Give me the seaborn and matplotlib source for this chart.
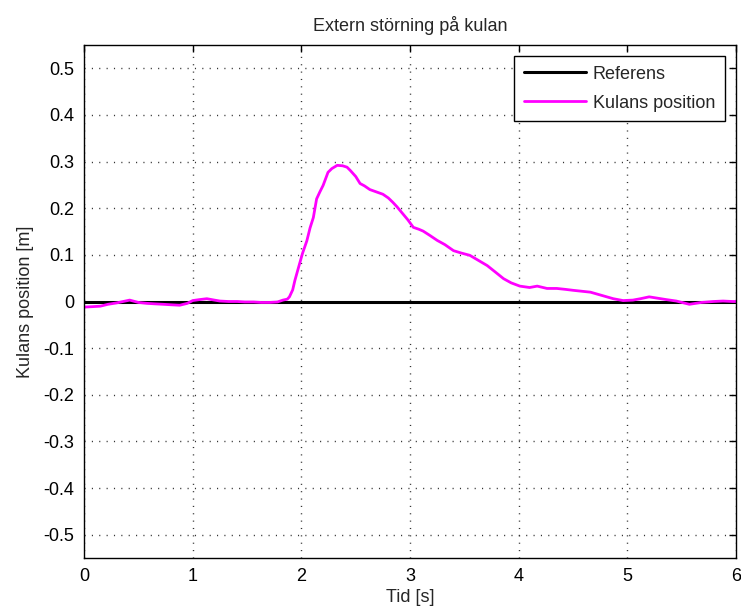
import numpy as np
import pandas as pd
import matplotlib
matplotlib.use("Agg")
import matplotlib.pyplot as plt
import seaborn as sns

# Time [s] and ball position [m]
t = [0.00, 0.08, 0.15, 0.22, 0.30, 0.36, 0.42, 0.50, 0.58, 0.65, 0.73, 0.80, 0.88, 0.95,
     1.00, 1.06, 1.13, 1.20, 1.25, 1.33, 1.41, 1.48, 1.56, 1.63, 1.71, 1.78, 1.83, 1.87,
     1.89, 1.92, 1.94, 1.97, 2.01, 2.05, 2.08, 2.11, 2.14, 2.17, 2.20, 2.245, 2.28, 2.33,
     2.38, 2.42, 2.45, 2.50, 2.54, 2.58, 2.63, 2.69, 2.75, 2.80, 2.84, 2.88, 2.93, 2.98,
     3.03, 3.08, 3.12, 3.18, 3.25, 3.32, 3.40, 3.47, 3.55, 3.63, 3.71, 3.78, 3.86, 3.93,
     4.01, 4.10, 4.17, 4.26, 4.35, 4.43, 4.50, 4.58, 4.66, 4.75, 4.87, 4.96, 5.05, 5.12,
     5.20, 5.28, 5.36, 5.45, 5.57, 5.68, 5.79, 5.88, 5.97, 6.00]
pos = [-0.012, -0.011, -0.010, -0.006, -0.003, 0.000, 0.003, -0.002, -0.004, -0.005,
       -0.006, -0.007, -0.008, -0.004, 0.002, 0.004, 0.006, 0.003, 0.001, 0.000, 0.000,
       -0.001, -0.001, -0.002, -0.002, -0.001, 0.003, 0.005, 0.010, 0.025, 0.045, 0.070,
       0.103, 0.130, 0.158, 0.180, 0.220, 0.235, 0.249, 0.277, 0.285, 0.292, 0.291, 0.288,
       0.281, 0.268, 0.253, 0.248, 0.240, 0.235, 0.230, 0.222, 0.213, 0.203, 0.189, 0.175,
       0.159, 0.155, 0.151, 0.142, 0.131, 0.122, 0.109, 0.104, 0.099, 0.088, 0.077, 0.064,
       0.049, 0.040, 0.033, 0.030, 0.033, 0.028, 0.028, 0.026, 0.024, 0.022, 0.020, 0.014,
       0.006, 0.002, 0.003, 0.006, 0.010, 0.007, 0.004, 0.001, -0.006, -0.002, 0.000,
       0.001, 0.000, 0.000]
ref_t = [0.0, 6.0]
ref = [0.0, 0.0]

x_ticks = [0, 1, 2, 3, 4, 5, 6]
y_ticks = [-0.5, -0.4, -0.3, -0.2, -0.1, 0, 0.1, 0.2, 0.3, 0.4, 0.5]
y_labels = ["-0.5", "-0.4", "-0.3", "-0.2", "-0.1", "0", "0.1", "0.2", "0.3", "0.4", "0.5"]

sns.set_style("white")
plt.rcParams["font.family"] = ["Liberation Sans", "DejaVu Sans"]

FS = 13

fig = plt.figure(figsize=(7.41, 6.14), dpi=100)
fig.patch.set_facecolor("white")
ax = fig.add_axes([0.1134, 0.0912, 0.88, 0.8355])

df_ref = pd.DataFrame({"t": ref_t, "y": ref})
df_pos = pd.DataFrame({"t": t, "y": pos})
sns.lineplot(data=df_ref, x="t", y="y", ax=ax, color="black", linewidth=2.2, label="Referens")
sns.lineplot(data=df_pos, x="t", y="y", ax=ax, color="#ff00ff", linewidth=2.0, label="Kulans position")

ax.set_xlim(0, 6)
ax.set_ylim(-0.55, 0.55)
ax.set_xticks(x_ticks)
ax.set_xticklabels([str(v) for v in x_ticks])
ax.set_yticks(y_ticks)
ax.set_yticklabels(y_labels)
ax.grid(True, linestyle=(0, (0.8, 4.5)), color="#333333", linewidth=1.0)
ax.set_axisbelow(True)
ax.tick_params(direction="in", length=5, width=1, top=True, right=True, labelsize=FS,
               colors="black", pad=7)
for s in ax.spines.values():
    s.set_color("black")
    s.set_linewidth(1)
    s.set_visible(True)

ax.set_xlabel("Tid [s]", fontsize=FS, labelpad=3)
ax.set_ylabel("Kulans position [m]", fontsize=FS, labelpad=7)
ax.set_title("Extern störning på kulan", fontsize=FS, pad=10)

leg = ax.legend(loc="upper right", fontsize=FS, frameon=True, fancybox=False,
                edgecolor="black", framealpha=1, handlelength=3.4, handletextpad=0.4,
                borderpad=0.55, labelspacing=0.65, borderaxespad=0.6)
leg.get_frame().set_linewidth(1)

fig.savefig("out.png", dpi=100, facecolor="white")
